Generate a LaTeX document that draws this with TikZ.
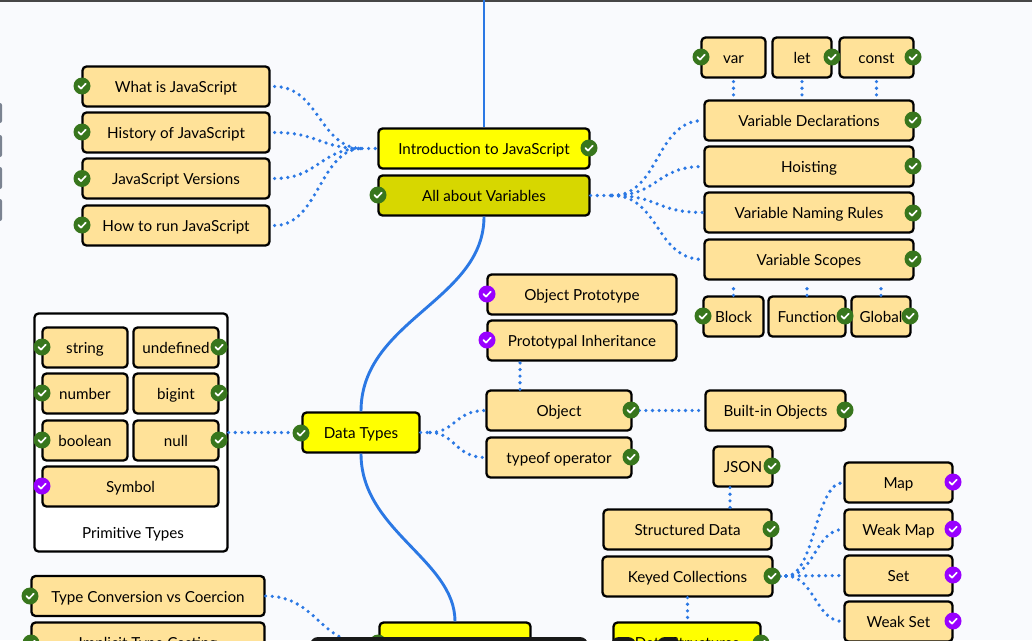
\documentclass[tikz,border=0pt]{standalone}
\usepackage{fontspec}
\setmainfont{Lato}
\definecolor{pagebg}{HTML}{F9FAFD}
\definecolor{topicfill}{HTML}{FFE299}
\definecolor{mainfill}{HTML}{FFFF00}
\definecolor{currentfill}{HTML}{D7D700}
\definecolor{doneok}{HTML}{38761D}
\definecolor{donepurple}{HTML}{9900FF}
\definecolor{linkblue}{HTML}{2B78E4}
\definecolor{tabgrey}{HTML}{7B8391}
\tikzset{
  boxsize/.style 2 args={minimum width=#1pt-1pt,minimum height=#2pt-1pt,text height=12.5pt,text depth=0pt},
  topic/.style={draw=black,line width=2.3pt,rounded corners=4pt,fill=topicfill},
  maintopic/.style={topic,fill=mainfill},
  panel/.style={draw=black,line width=2.3pt,rounded corners=4pt,fill=white},
  okbadge/.style={circle,minimum size=17pt,fill=#1,path picture={
    \draw[white,line width=1.7pt,line cap=round,line join=round]
      ([shift={(-3.6pt,0pt)}]path picture bounding box.center) -- ++(2.6pt,-2.6pt) -- ++(4.8pt,5pt);}},
  okbadge/.default=doneok,
  dotlink/.style={draw=linkblue,line width=3.6pt,line cap=round,dash pattern=on 0pt off 6.6pt},
  mainlink/.style={draw=linkblue,line width=2.9pt},
}
\begin{document}
\begin{tikzpicture}[x=1pt,y=-1pt]
\tikzstyle{every node}+=[inner sep=0pt,font=\fontsize{15.2}{17}\selectfont]
\path[use as bounding box,fill=pagebg] (0,0) rectangle (1032,640);
\clip (0,0) rectangle (1032,640);
\fill[black!72] (0,0) rectangle (1032,2);
\foreach \tabtop/\tabbot in {103/123,135/157,167/189,199/221}
  \fill[tabgrey,rounded corners=2pt] (-4,\tabtop) rectangle (2,\tabbot);
% intro column, left
\node[topic,boxsize={188}{41}] (whatjs) at (176,86.5) {What is JavaScript};
\node[topic,boxsize={188}{41}] (history) at (176,132.5) {History of JavaScript};
\node[topic,boxsize={188}{41}] (versions) at (176,178.5) {JavaScript Versions};
\node[topic,boxsize={188}{41}] (howtorun) at (176,225.5) {How to run JavaScript};
% main topics
\node[maintopic,boxsize={212}{41}] (intro) at (484,148.5) {Introduction to JavaScript};
\node[maintopic,fill=currentfill,boxsize={212}{41}] (variables) at (484,195.5) {All about Variables};
\node[maintopic,boxsize={118}{41}] (datatypes) at (361,432.5) {Data Types};
\node[maintopic,boxsize={152}{41}] (typecasting) at (455,642.5) {};
\node[maintopic,boxsize={148}{41}] (structures) at (687,642.5) {Data Structures};
% variables, right
\node[topic,boxsize={65}{41}] (varkw) at (733.5,57.5) {var};
\node[topic,boxsize={60}{41}] (letkw) at (802,57.5) {let};
\node[topic,boxsize={75}{41}] (constkw) at (876.5,57.5) {const};
\node[topic,boxsize={210}{41}] (declarations) at (809,120.5) {Variable Declarations};
\node[topic,boxsize={210}{41}] (hoisting) at (809,166.5) {Hoisting};
\node[topic,boxsize={210}{41}] (naming) at (809,212.5) {Variable Naming Rules};
\node[topic,boxsize={210}{41}] (scopes) at (809,259.5) {Variable Scopes};
\node[topic,boxsize={61}{41}] (blockscope) at (733.5,316.5) {Block};
\node[topic,boxsize={78}{41}] (funcscope) at (807,316.5) {Function};
\node[topic,boxsize={60}{41}] (globalscope) at (881,316.5) {Global};
% objects
\node[topic,boxsize={190}{41}] (objproto) at (582,294.5) {Object Prototype};
\node[topic,boxsize={190}{41}] (protoinherit) at (582,340.5) {Prototypal Inheritance};
\node[topic,boxsize={146}{41}] (objectnode) at (559,410.5) {Object};
\node[topic,boxsize={146}{41}] (typeofop) at (559,457.5) {typeof operator};
\node[topic,boxsize={141}{41}] (builtin) at (775.5,410.5) {Built-in Objects};
% primitive types
\node[panel,boxsize={194}{239}] (primitives) at (131,432.5) {};
\node (primitivelabel) at (133,534) {Primitive Types};
\node[topic,boxsize={86}{41}] (stringtype) at (85,347.5) {string};
\node[topic,boxsize={86}{41}] (undefinedtype) at (176,347.5) {undefined};
\node[topic,boxsize={86}{41}] (numbertype) at (85,393.5) {number};
\node[topic,boxsize={86}{41}] (biginttype) at (176,393.5) {bigint};
\node[topic,boxsize={86}{41}] (booleantype) at (85,440.5) {boolean};
\node[topic,boxsize={86}{41}] (nulltype) at (176,440.5) {null};
\node[topic,boxsize={177}{41}] (symboltype) at (130.5,486.5) {Symbol};
% collections
\node[topic,boxsize={60}{41}] (jsonnode) at (743,466.5) {JSON};
\node[topic,boxsize={169}{41}] (structured) at (687.5,529.5) {Structured Data};
\node[topic,boxsize={171}{41}] (keyed) at (687.5,576.5) {Keyed Collections};
\node[topic,boxsize={109}{41}] (mapnode) at (898.5,482.5) {Map};
\node[topic,boxsize={109}{41}] (weakmap) at (898.5,529.5) {Weak Map};
\node[topic,boxsize={109}{41}] (setnode) at (898.5,575.5) {Set};
\node[topic,boxsize={109}{41}] (weakset) at (898.5,621.5) {Weak Set};
% type casting, left
\node[topic,boxsize={234}{41}] (conversion) at (148,596) {Type Conversion vs Coercion};
\node[topic,boxsize={234}{41}] (implicit) at (148,642.5) {Implicit Type Casting};
% main line
\coordinate (pagetop) at (484,0);
\draw[mainlink] (pagetop) -- (intro.north);
\draw[mainlink] (variables.south) .. controls +(0,84) and (361,320) .. (datatypes.north);
\draw[mainlink] (datatypes.south) .. controls +(0,77) and (455,560) .. (typecasting.north);
% fans
\coordinate (introhub) at (362,148.5);
\coordinate (varhub) at (612,195.5);
\coordinate (typeshub) at (430,432.5);
\coordinate (keyedhub) at (786,576);
\coordinate (castinghub) at (362,642);
\foreach \leaf in {whatjs,history,versions,howtorun}
  \draw[dotlink,shorten <=4pt] (\leaf.east) .. controls +(48,0) and (320,148.5) .. (introhub);
\draw[dotlink] (introhub) -- (intro.west);
\foreach \leaf in {declarations,hoisting,naming,scopes}
  \draw[dotlink] (varhub) .. controls (660,195.5) and (\leaf.west -| 655,0) .. (\leaf.west);
\draw[dotlink] (variables.east) -- (varhub);
\foreach \leaf in {objectnode,typeofop}
  \draw[dotlink] (typeshub) .. controls (455,432.5) and (\leaf.west -| 455,0) .. (\leaf.west);
\draw[dotlink] (datatypes.east) -- (typeshub);
\foreach \leaf in {mapnode,weakmap,setnode,weakset}
  \draw[dotlink] (keyedhub) .. controls (815,576) and (\leaf.west -| 815,0) .. (\leaf.west);
\draw[dotlink] (keyed.east) -- (keyedhub);
\draw[dotlink] (conversion.east) .. controls +(50,0) and (320,642) .. (castinghub);
% straight links
\foreach \upper/\lower in {varkw/declarations,letkw/declarations,constkw/declarations}
  \draw[dotlink,shorten <=3pt] (\upper.south) -- (\upper.south |- \lower.north);
\foreach \lower/\upper in {blockscope/scopes,funcscope/scopes,globalscope/scopes}
  \draw[dotlink,shorten >=3pt] (\lower.north) -- (\lower.north |- \upper.south);
\draw[dotlink] ([xshift=-39pt]objectnode.north) -- ([xshift=-39pt]objectnode.north |- protoinherit.south);
\draw[dotlink] ([xshift=-13pt]jsonnode.south) -- ([xshift=-13pt]jsonnode.south |- structured.north);
\draw[dotlink] (keyed.south) -- (keyed.south |- structures.north);
\draw[dotlink] (objectnode.east) -- (builtin.west);
\draw[dotlink] (primitives.east) -- (datatypes.west);
% badges
\node[okbadge] (okwhatjs) at (82,86) {};
\node[okbadge] (okhistory) at (82,132) {};
\node[okbadge] (okversions) at (82,178.5) {};
\node[okbadge] (okhowtorun) at (82,225) {};
\node[okbadge] (okintro) at (589,148) {};
\node[okbadge] (okvariables) at (378,195) {};
\node[okbadge] (okvarkw) at (701,57) {};
\node[okbadge] (okletkw) at (832,57) {};
\node[okbadge] (okconstkw) at (913,57) {};
\node[okbadge] (okdeclarations) at (913,120) {};
\node[okbadge] (okhoisting) at (913,166) {};
\node[okbadge] (oknaming) at (913,213) {};
\node[okbadge] (okscopes) at (913,259) {};
\node[okbadge] (okblock) at (703,316) {};
\node[okbadge] (okfunc) at (845,316) {};
\node[okbadge] (okglobal) at (910,316) {};
\node[okbadge=donepurple] (okobjproto) at (487,294) {};
\node[okbadge=donepurple] (okprotoinherit) at (487,340) {};
\node[okbadge] (okobject) at (631,410) {};
\node[okbadge] (oktypeof) at (631,457) {};
\node[okbadge] (okbuiltin) at (845,410) {};
\node[okbadge] (okdatatypes) at (301,433) {};
\node[okbadge] (okstring) at (42,347) {};
\node[okbadge] (okundefined) at (219,347) {};
\node[okbadge] (oknumber) at (42,393) {};
\node[okbadge] (okbigint) at (219,393) {};
\node[okbadge] (okboolean) at (42,440) {};
\node[okbadge] (oknull) at (219,440) {};
\node[okbadge=donepurple] (oksymbol) at (42,486) {};
\node[okbadge] (okjson) at (772,466) {};
\node[okbadge] (okstructured) at (771,529) {};
\node[okbadge] (okkeyed) at (772,576) {};
\node[okbadge=donepurple] (okmap) at (953,482) {};
\node[okbadge=donepurple] (okweakmap) at (953,529) {};
\node[okbadge=donepurple] (okset) at (953,575) {};
\node[okbadge=donepurple] (okweakset) at (953,621) {};
\node[okbadge] (okconversion) at (30,596) {};
\node[okbadge] (okimplicit) at (31,643) {};
\node[okbadge] (okcasting) at (378,643) {};
\node[okbadge] (okstructures) at (761,643) {};
% overlay along the bottom edge
\fill[black!90,rounded corners=8pt] (310,637) rectangle (588,670);
\fill[black!90,rounded corners=8pt] (611,637) rectangle (636,670);
\fill[black!90,rounded corners=8pt] (657,637) rectangle (680,670);
\end{tikzpicture}
\end{document}
